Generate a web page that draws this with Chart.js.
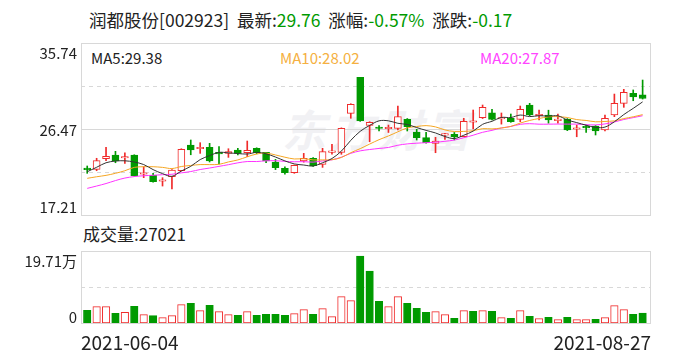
<!DOCTYPE html>
<html>
<head>
<meta charset="utf-8">
<script src="https://cdn.jsdelivr.net/npm/chart.js@4/dist/chart.umd.min.js"></script>
<style>
body { margin: 0; background: #fff; width: 688px; height: 360px; overflow: hidden; position: relative; font-family: "Noto Sans CJK SC", sans-serif; }
.t { position: absolute; white-space: nowrap; line-height: 1; transform: translateY(-50%); color: #222; }
.g { color: #009a00; }
.box { position: absolute; left: 0; width: 688px; }
#wm { position: absolute; left: 282px; top: 96px; font-size: 44px; font-weight: bold; font-style: italic; color: #f1f1f4; letter-spacing: 4px; }
</style>
</head>
<body>
<div id="wm">东方财富</div>
<div class="t" style="left:89px;top:20px;font-size:17.5px">润都股份[002923]&nbsp; 最新:<span class="g">29.76</span>&nbsp; 涨幅:<span class="g">-0.57%</span>&nbsp; 涨跌:<span class="g">-0.17</span></div>
<div class="t" style="left:91px;top:57px;font-size:15px;color:#222">MA5:29.38</div>
<div class="t" style="left:280px;top:57px;font-size:15px;color:#f5b041">MA10:28.02</div>
<div class="t" style="left:480px;top:57px;font-size:15px;color:#ff44ff">MA20:27.87</div>
<div class="t" style="left:83px;top:233px;font-size:17px">成交量:27021</div>
<div class="box" style="top:0;height:230px"><canvas id="kline"></canvas></div>
<div class="box" style="top:230px;height:130px"><canvas id="vol"></canvas></div>
<script>
const dates = [
    '2021-06-04', '2021-06-07', '2021-06-08', '2021-06-09', '2021-06-10', '2021-06-11', '2021-06-15', '2021-06-16', '2021-06-17', '2021-06-18',
    '2021-06-21', '2021-06-22', '2021-06-23', '2021-06-24', '2021-06-25', '2021-06-28', '2021-06-29', '2021-06-30', '2021-07-01', '2021-07-02',
    '2021-07-05', '2021-07-06', '2021-07-07', '2021-07-08', '2021-07-09', '2021-07-12', '2021-07-13', '2021-07-14', '2021-07-15', '2021-07-16',
    '2021-07-19', '2021-07-20', '2021-07-21', '2021-07-22', '2021-07-23', '2021-07-26', '2021-07-27', '2021-07-28', '2021-07-29', '2021-07-30',
    '2021-08-02', '2021-08-03', '2021-08-04', '2021-08-05', '2021-08-06', '2021-08-09', '2021-08-10', '2021-08-11', '2021-08-12', '2021-08-13',
    '2021-08-16', '2021-08-17', '2021-08-18', '2021-08-19', '2021-08-20', '2021-08-23', '2021-08-24', '2021-08-25', '2021-08-26', '2021-08-27'
];
const open = [
    22.17, 22.13, 23.27, 23.67, 23.35, 23.67, 21.60, 21.48, 20.85, 21.33,
    21.98, 24.75, 24.35, 24.50, 23.90, 23.85, 24.20, 23.92, 24.40, 23.96,
    22.92, 22.24, 21.76, 23.03, 23.32, 22.67, 23.95, 23.96, 28.16, 32.04,
    26.87, 26.58, 26.50, 26.55, 27.52, 26.15, 25.54, 24.93, 25.82, 25.90,
    25.64, 27.20, 27.69, 28.23, 27.55, 27.63, 27.52, 29.06, 27.90, 27.98,
    27.38, 27.52, 26.45, 26.70, 26.80, 26.37, 27.98, 29.24, 30.32, 30.15
];
const high = [
    22.49, 23.32, 24.50, 24.07, 23.92, 23.70, 22.41, 21.70, 21.23, 22.10,
    24.35, 25.29, 25.00, 24.93, 24.57, 24.35, 24.39, 25.18, 24.45, 23.96,
    23.20, 22.40, 22.60, 23.85, 23.40, 24.39, 24.83, 26.60, 29.20, 32.04,
    27.26, 26.85, 26.90, 28.95, 27.60, 26.44, 26.12, 25.58, 26.00, 26.10,
    27.63, 28.52, 29.06, 28.60, 28.20, 28.09, 28.95, 29.24, 28.52, 28.50,
    28.09, 27.60, 26.90, 26.90, 26.85, 27.98, 30.24, 30.75, 30.68, 31.75
];
const low = [
    21.70, 21.98, 23.06, 22.84, 22.78, 21.40, 21.23, 20.75, 20.33, 20.01,
    21.95, 23.70, 23.85, 22.92, 22.70, 23.42, 23.67, 23.49, 23.80, 22.85,
    22.10, 21.60, 21.70, 22.90, 22.45, 22.34, 23.75, 23.75, 27.63, 27.30,
    25.10, 26.26, 26.10, 26.37, 26.26, 25.29, 24.95, 23.92, 25.36, 25.30,
    25.64, 26.48, 27.60, 27.45, 27.00, 27.20, 27.26, 27.90, 27.44, 27.10,
    27.09, 26.30, 25.64, 26.10, 25.83, 26.26, 27.80, 28.81, 29.52, 29.70
];
const close = [
    22.10, 23.06, 23.53, 23.06, 23.50, 21.44, 21.70, 20.80, 20.90, 22.06,
    24.29, 24.21, 24.45, 23.03, 23.80, 24.03, 23.85, 24.18, 23.92, 23.03,
    22.30, 21.76, 22.56, 23.32, 22.52, 24.03, 24.05, 26.55, 29.13, 27.37,
    27.19, 26.53, 26.56, 27.80, 26.72, 25.54, 25.00, 25.18, 25.88, 25.64,
    27.30, 27.26, 28.81, 27.52, 27.70, 27.26, 28.60, 27.98, 28.00, 27.44,
    27.46, 26.37, 26.55, 26.60, 26.26, 27.63, 29.24, 30.43, 29.93, 29.76
];
// volume in 万手
const volume = [
    3.48, 4.49, 4.49, 2.66, 2.93, 4.58, 2.29, 2.02, 1.47, 2.02,
    5.04, 5.41, 3.39, 4.86, 3.12, 2.29, 2.11, 3.12, 2.11, 2.38,
    2.38, 2.11, 2.57, 3.67, 2.38, 3.94, 1.74, 7.24, 6.14, 18.33,
    14.20, 5.96, 4.49, 7.24, 5.41, 4.03, 2.93, 3.12, 2.29, 1.28,
    3.39, 3.21, 3.39, 3.21, 1.47, 1.28, 3.39, 1.83, 1.19, 1.56,
    0.92, 1.56, 0.92, 0.92, 1.01, 1.47, 4.77, 3.67, 2.38, 2.70
];
// MA values for the first days (they need closes from before 06-04)
const ma5Head = [21.87, 22.35, 22.84, 23.02];
const ma10Head = [21.16, 21.33, 21.48, 21.70, 21.98, 22.34, 22.41, 22.41, 22.34];
const ma20Head = [20.08, 20.33, 20.60, 20.92, 21.19, 21.35, 21.44, 21.49, 21.55, 21.60,
                  21.75, 21.89, 22.11, 22.27, 22.45, 22.63, 22.83, 22.97, 22.97];

const priceTicks = ['35.74', '26.47', '17.21'];
const volTicks = ['19.71万', '0'];
const dateTicks = ['2021-06-04', '2021-08-27'];

const RED = '#f02a2a';
const GREEN = '#009a00';
const GRID = '#d8d8d8';

function movingAvg(n, head) {
    return close.map(function(c, i) {
        if (i < n - 1) return head[i];
        let s = 0;
        for (let j = i - n + 1; j <= i; j++) s += close[j];
        return s / n;
    });
}

const candleUp = close.map((c, i) => c >= open[i]);
const volUp = close.map((c, i) => i == 0 ? c >= open[0] : c >= close[i - 1]);

const xMin = -0.66, xMax = 59.89;

// box + horizontal grid lines inside the plot
function gridPlugin(lines) {
    return {
        id: 'grid',
        beforeDatasetsDraw(chart) {
            const a = chart.chartArea;
            const y = chart.scales.y;
            const c = chart.ctx;
            c.save();
            c.lineWidth = 1;
            c.strokeStyle = GRID;
            lines.forEach(function(l) {
                const py = Math.round(y.getPixelForValue(l.v)) + 0.5;
                c.setLineDash(l.dash ? [4, 4] : []);
                c.beginPath();
                c.moveTo(a.left, py);
                c.lineTo(a.right, py);
                c.stroke();
            });
            c.setLineDash([]);
            c.strokeRect(Math.round(a.left) + 0.5, Math.round(a.top) + 0.5, Math.round(a.right - a.left) - 1, Math.round(a.bottom - a.top));
            c.restore();
        }
    };
}

function xScale() {
    return { type: 'linear', min: xMin, max: xMax, offset: false, display: false };
}

const kChart = new Chart(document.getElementById('kline'), {
    data: {
        datasets: [
            {
                type: 'line', label: 'MA5', order: 0,
                data: movingAvg(5, ma5Head).map((v, i) => ({ x: i, y: v })),
                borderColor: '#333', borderWidth: 1, pointRadius: 0, tension: 0.35
            },
            {
                type: 'line', label: 'MA10', order: 0,
                data: movingAvg(10, ma10Head).map((v, i) => ({ x: i, y: v })),
                borderColor: '#f5a623', borderWidth: 1, pointRadius: 0, tension: 0.35
            },
            {
                type: 'line', label: 'MA20', order: 0,
                data: movingAvg(20, ma20Head).map((v, i) => ({ x: i, y: v })),
                borderColor: '#ff33ff', borderWidth: 1, pointRadius: 0, tension: 0.35
            },
            {
                type: 'bar', label: 'body', order: 1, grouped: false,
                data: open.map((o, i) => ({ x: i, y: [o, close[i]] })),
                backgroundColor: candleUp.map(u => u ? '#fff' : GREEN),
                borderColor: candleUp.map(u => u ? RED : GREEN),
                borderWidth: 1, borderSkipped: false, barThickness: 7, minBarLength: 1.5
            },
            {
                type: 'bar', label: 'wick', order: 2, grouped: false,
                data: low.map((l, i) => ({ x: i, y: [l, high[i]] })),
                backgroundColor: candleUp.map(u => u ? RED : GREEN),
                borderWidth: 0, barThickness: 1
            }
        ]
    },
    options: {
        responsive: true, maintainAspectRatio: false, animation: false,
        layout: { padding: { left: 81, right: 37, top: 43, bottom: 15 } },
        plugins: { legend: { display: false }, tooltip: { enabled: false } },
        scales: {
            x: xScale(),
            y: { type: 'linear', min: 17.21, max: 35.74, display: false }
        }
    },
    plugins: [gridPlugin([
        { v: 31.1075, dash: true },
        { v: 26.475, dash: false },
        { v: 21.8425, dash: true }
    ])]
});

const vChart = new Chart(document.getElementById('vol'), {
    type: 'bar',
    data: {
        datasets: [{
            label: 'volume', grouped: false,
            data: volume.map((v, i) => ({ x: i, y: v })),
            backgroundColor: volUp.map(u => u ? '#fff' : GREEN),
            borderColor: volUp.map(u => u ? RED : GREEN),
            borderWidth: 1, borderSkipped: false, barThickness: 7.5
        }]
    },
    options: {
        responsive: true, maintainAspectRatio: false, animation: false,
        layout: { padding: { left: 81, right: 37, top: 21, bottom: 37 } },
        plugins: { legend: { display: false }, tooltip: { enabled: false } },
        scales: {
            x: xScale(),
            y: { type: 'linear', min: 0, max: 19.71, display: false }
        }
    },
    plugins: [gridPlugin([{ v: 9.855, dash: true }])]
});

// axis labels, placed from the charts' own scales
function label(text, css) {
    const d = document.createElement('div');
    d.className = 't';
    d.textContent = text;
    Object.assign(d.style, css);
    document.body.appendChild(d);
}

const ka = kChart.chartArea;
const ky = kChart.scales.y;
const right = (688 - ka.left + 4) + 'px';
label(priceTicks[0], { right: right, top: (ky.getPixelForValue(35.74) + 9) + 'px', fontSize: '15px' });
label(priceTicks[1], { right: right, top: ky.getPixelForValue(26.47) + 'px', fontSize: '15px' });
label(priceTicks[2], { right: right, top: (ky.getPixelForValue(17.21) - 9) + 'px', fontSize: '15px' });

const va = vChart.chartArea;
const vy = vChart.scales.y;
label(volTicks[0], { right: right, top: (230 + vy.getPixelForValue(19.71) + 9) + 'px', fontSize: '15px' });
label(volTicks[1], { right: right, top: (230 + vy.getPixelForValue(0) - 7) + 'px', fontSize: '15px' });

label(dateTicks[0], { left: va.left + 'px', top: '341px', fontSize: '19px' });
label(dateTicks[1], { right: (688 - va.right) + 'px', top: '341px', fontSize: '19px' });
</script>
</body>
</html>
